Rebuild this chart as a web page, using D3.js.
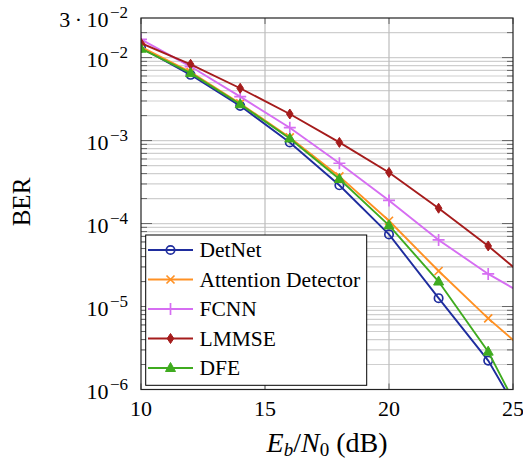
<!DOCTYPE html>
<html><head><meta charset="utf-8">
<script src="https://cdn.jsdelivr.net/npm/d3@7"></script>
<style>
body{margin:0;background:#fff;}
svg{display:block;}
</style></head>
<body>
<svg id="c" width="523" height="462" font-family="Liberation Serif, DejaVu Serif, serif"></svg>
<script>
const snr = [10,12,14,16,18,20,22,24,26];
const detnet    = [1.32e-2, 6.2e-3, 2.62e-3, 9.5e-4, 2.89e-4, 7.4e-5, 1.26e-5, 2.23e-6, 2.1e-7];
const attention = [1.35e-2, 6.7e-3, 2.8e-3, 1.09e-3, 3.7e-4, 1.08e-4, 2.68e-5, 7.2e-6, 2.17e-6];
const fcnn      = [1.66e-2, 7.8e-3, 3.38e-3, 1.43e-3, 5.33e-4, 1.9e-4, 6.34e-5, 2.47e-5, 1.12e-5];
const lmmse     = [1.49e-2, 8.3e-3, 4.27e-3, 2.09e-3, 9.5e-4, 4.13e-4, 1.53e-4, 5.37e-5, 1.7e-5];
const dfe       = [1.28e-2, 6.5e-3, 2.74e-3, 1.06e-3, 3.44e-4, 9.5e-5, 2.0e-5, 2.86e-6, 2.0e-7];
const seriesNames = ["DetNet","Attention Detector","FCNN","LMMSE","DFE"];
const xTicks = [10,15,20,25];
const yTickExps = [-2,-3,-4,-5,-6];

const series = [
  {name:seriesNames[0], vals:detnet,    color:"#1f2d9e", mark:"circle"},
  {name:seriesNames[1], vals:attention, color:"#ff9124", mark:"cross"},
  {name:seriesNames[2], vals:fcnn,      color:"#d66ef2", mark:"plus"},
  {name:seriesNames[3], vals:lmmse,     color:"#a51c1c", mark:"diamond"},
  {name:seriesNames[4], vals:dfe,       color:"#3fab1f", mark:"triangle"}
];

const L=141, R=513, T=18, B=389.5;
const svg = d3.select("#c");
const x = d3.scaleLinear().domain([10,25]).range([L,R]);
const y = d3.scaleLog().domain([1e-6,3e-2]).range([B,T]);

svg.append("defs").append("clipPath").attr("id","clip")
  .append("rect").attr("x",L).attr("y",T).attr("width",R-L).attr("height",B-T);

// grid
const minorVals = [];
for (let e=-6;e<=-2;e++) for (let m=1;m<=9;m++){ const v=m*Math.pow(10,e); if(v>1e-6 && v<3e-2) minorVals.push(v);}
const grid = svg.append("g");
grid.selectAll("line.h").data(minorVals).join("line")
  .attr("x1",L).attr("x2",R).attr("y1",d=>y(d)).attr("y2",d=>y(d))
  .attr("stroke","#cfcfcf").attr("stroke-width",1.2);
grid.selectAll("line.v").data([15,20]).join("line")
  .attr("y1",T).attr("y2",B).attr("x1",d=>x(d)).attr("x2",d=>x(d))
  .attr("stroke","#bdbdbd").attr("stroke-width",1.2);

// ticks
const tk = svg.append("g").attr("stroke","#666").attr("stroke-width",1);
const majors = yTickExps.map(e=>Math.pow(10,e));
minorVals.forEach(v=>{
  const isMaj = majors.some(m=>Math.abs(Math.log10(m)-Math.log10(v))<1e-9);
  const len = isMaj?11:6;
  tk.append("line").attr("x1",L).attr("x2",L+len).attr("y1",y(v)).attr("y2",y(v));
  tk.append("line").attr("x1",R).attr("x2",R-len).attr("y1",y(v)).attr("y2",y(v));
});
xTicks.forEach(v=>{
  tk.append("line").attr("x1",x(v)).attr("x2",x(v)).attr("y1",B).attr("y2",B-6);
  tk.append("line").attr("x1",x(v)).attr("x2",x(v)).attr("y1",T).attr("y2",T+6);
});

// lines
const line = d3.line().x((d,i)=>x(snr[i])).y(d=>y(d));
const plot = svg.append("g").attr("clip-path","url(#clip)");
function drawMark(g, type, cx, cy, color){
  if(type==="circle") g.append("circle").attr("cx",cx).attr("cy",cy).attr("r",4.2).attr("fill","none").attr("stroke",color).attr("stroke-width",1.7);
  else if(type==="cross") g.append("path").attr("d",`M${cx-4},${cy-4}L${cx+4},${cy+4}M${cx-4},${cy+4}L${cx+4},${cy-4}`).attr("stroke",color).attr("stroke-width",1.7);
  else if(type==="plus") g.append("path").attr("d",`M${cx-6},${cy}L${cx+6},${cy}M${cx},${cy-6}L${cx},${cy+6}`).attr("stroke",color).attr("stroke-width",1.7);
  else if(type==="diamond") g.append("path").attr("d",`M${cx},${cy-5}L${cx+3.3},${cy}L${cx},${cy+5}L${cx-3.3},${cy}Z`).attr("fill",color).attr("stroke",color).attr("stroke-width",1);
  else if(type==="triangle") g.append("path").attr("d",`M${cx},${cy-5.5}L${cx+5},${cy+3.5}L${cx-5},${cy+3.5}Z`).attr("fill",color).attr("stroke",color).attr("stroke-width",1);
}
series.forEach(s=>{
  plot.append("path").attr("d",line(s.vals)).attr("fill","none").attr("stroke",s.color).attr("stroke-width",1.9);
  s.vals.forEach((v,i)=>drawMark(plot,s.mark,x(snr[i]),y(v),s.color));
});

// frame
svg.append("rect").attr("x",L).attr("y",T).attr("width",R-L).attr("height",B-T)
  .attr("fill","none").attr("stroke","#222").attr("stroke-width",1.2);

// x tick labels
svg.append("g").selectAll("text").data(xTicks).join("text")
  .attr("x",d=>x(d)).attr("y",416).attr("text-anchor","middle").attr("font-size",22).text(d=>d);

// y tick labels
yTickExps.forEach(e=>{
  const t = svg.append("text").attr("x",128).attr("y",y(Math.pow(10,e))+9).attr("text-anchor","end").attr("font-size",22);
  t.append("tspan").text("10");
  t.append("tspan").attr("font-size",17).attr("dx",1.5).attr("dy",-9).text("\u2212"+(-e));
});
{
  const t = svg.append("text").attr("x",128).attr("y",y(3e-2)+9).attr("text-anchor","end").attr("font-size",22);
  t.append("tspan").text("3\u2009\u00b7\u200910");
  t.append("tspan").attr("font-size",17).attr("dx",1.5).attr("dy",-9).text("\u22122");
}

// axis labels
{
  const t = svg.append("text").attr("x",327).attr("y",452).attr("text-anchor","middle").attr("font-size",28);
  t.append("tspan").attr("font-style","italic").text("E");
  t.append("tspan").attr("font-style","italic").attr("font-size",19).attr("dy",4).text("b");
  t.append("tspan").attr("dy",-4).text("/");
  t.append("tspan").attr("font-style","italic").text("N");
  t.append("tspan").attr("font-size",19).attr("dy",4).text("0");
  t.append("tspan").attr("dy",-4).text(" (dB)");
}
svg.append("text").attr("transform","translate(30,202) rotate(-90)").attr("text-anchor","middle").attr("font-size",25).text("BER");

// legend
const lg = svg.append("g");
lg.append("rect").attr("x",145.7).attr("y",235).attr("width",221).attr("height",150.3)
  .attr("fill","#fff").attr("stroke","#000").attr("stroke-width",1);
series.forEach((s,i)=>{
  const cy = 250 + i*29.5;
  lg.append("line").attr("x1",148).attr("x2",193).attr("y1",cy).attr("y2",cy).attr("stroke",s.color).attr("stroke-width",1.9);
  drawMark(lg, s.mark, 170.5, cy, s.color);
  lg.append("text").attr("x",199.5).attr("y",cy+7).attr("font-size",21.5).text(s.name);
});
</script>
</body></html>
